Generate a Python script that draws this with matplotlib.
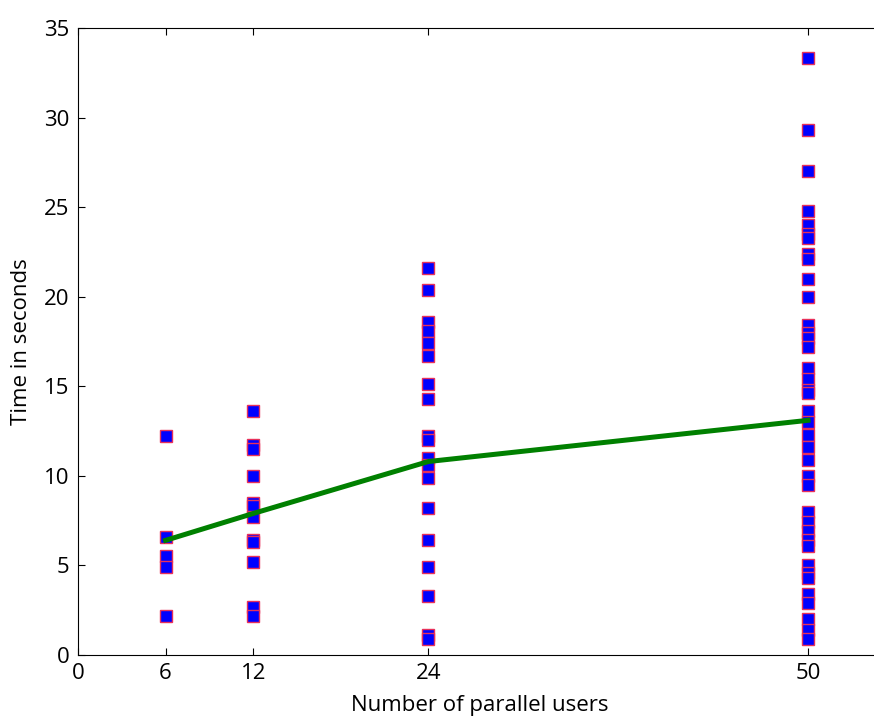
import matplotlib
matplotlib.use("Agg")
import matplotlib.pyplot as plt

# response times, one list per user count
users = [6, 12, 24, 50]
times_6 = [12.2, 6.6, 5.5, 4.9, 2.2]
times_12 = [13.6, 11.7, 11.5, 10.0, 8.5, 8.3, 7.7, 6.4, 6.3, 5.2, 2.7, 2.2]
times_24 = [21.6, 20.4, 18.6, 18.1, 17.4, 16.7, 15.1, 14.3, 12.2, 12.0,
            11.0, 10.6, 9.9, 8.2, 6.4, 4.9, 3.3, 1.1, 0.9]
times_50 = [33.3, 29.3, 27.0, 24.8, 24.0, 23.5, 23.3, 22.4, 22.1, 21.0, 20.0,
            18.4, 18.0, 17.7, 17.2, 16.0, 15.4, 14.8, 14.6, 13.6, 13.0, 12.3,
            11.6, 10.9, 10.0, 9.5, 8.0, 7.4, 6.9, 6.4, 6.1, 5.0, 4.6, 4.3,
            3.4, 2.9, 2.0, 1.4, 0.9]
mean_times = [6.4, 7.9, 10.8, 13.1]
xticks = [0, 6, 12, 24, 50]

plt.rcParams["font.family"] = ["Open Sans", "DejaVu Sans"]
plt.rcParams["xtick.direction"] = "in"
plt.rcParams["ytick.direction"] = "in"

fig = plt.figure(figsize=(8.74, 7.2), dpi=100)
ax = fig.add_axes([78 / 874, 1 - 655 / 720, 803 / 874, 627 / 720])

for u, t in zip(users, [times_6, times_12, times_24, times_50]):
    ax.plot([u] * len(t), t, "s", color="blue", mec="#e8305a", mew=1, ms=8.2,
            linestyle="none")
ax.plot(users, mean_times, color="green", lw=3.6)

ax.set_xlim(0, 55)
ax.set_ylim(0, 35)
ax.set_xticks(xticks)
ax.set_yticks(range(0, 36, 5))
ax.tick_params(top=True, right=True, labelsize=16, length=5, pad=6)
ax.set_xlabel("Number of parallel users", fontsize=16, labelpad=8)
ax.set_ylabel("Time in seconds", fontsize=16, labelpad=9)

fig.savefig("out.png", dpi=100)
